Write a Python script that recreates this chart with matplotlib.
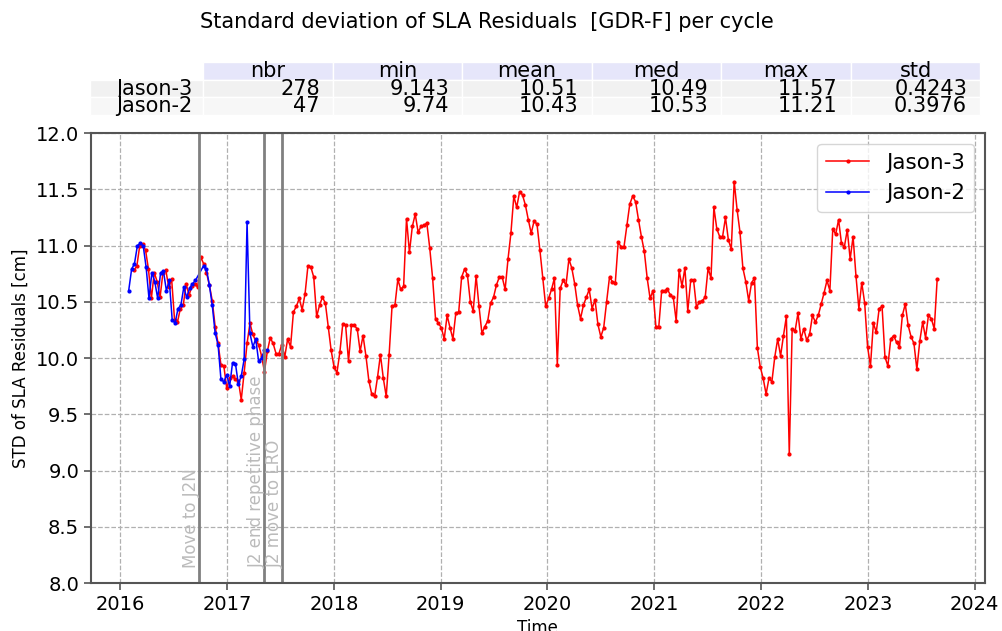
import numpy as np
import pandas as pd
import matplotlib
matplotlib.use('Agg')
import matplotlib.pyplot as plt

# Jason-3 std of SLA residuals per cycle [cm], grouped by year
j3_2016 = [10.78, 10.82, 11.00, 11.01, 10.96, 10.79, 10.53, 10.76, 10.68, 10.54,
           10.76, 10.78, 10.63, 10.70, 10.34, 10.32, 10.44, 10.47, 10.66, 10.56,
           10.64, 10.66, 10.63, 10.90, 10.84, 10.76, 10.65, 10.51, 10.28, 10.13,
           9.94, 9.93]
j3_2017 = [9.73, 9.82, 9.84, 9.81, 9.80, 9.63, 9.87, 10.13, 10.31, 10.21,
           10.15, 10.12, 10.02, 9.88, 10.06, 10.18, 10.13, 10.04, 10.04, 10.12,
           10.01, 10.17, 10.10, 10.41, 10.46, 10.53, 10.43, 10.57, 10.82, 10.81,
           10.72, 10.37, 10.47, 10.54, 10.49, 10.28, 10.07]
j3_2018 = [9.92, 9.87, 10.05, 10.30, 10.29, 9.97, 10.29, 10.29, 10.26, 10.06,
           10.20, 10.02, 9.80, 9.68, 9.66, 9.83, 10.03, 9.82, 9.66, 10.03,
           10.46, 10.47, 10.70, 10.61, 10.64, 11.24, 10.94, 11.17, 11.28, 11.12,
           11.17, 11.18, 11.20, 10.98, 10.71, 10.35, 10.31]
j3_2019 = [10.27, 10.17, 10.38, 10.27, 10.17, 10.40, 10.41, 10.72, 10.79, 10.74,
           10.50, 10.42, 10.73, 10.46, 10.22, 10.28, 10.33, 10.49, 10.54, 10.65,
           10.72, 10.72, 10.61, 10.88, 11.11, 11.44, 11.34, 11.48, 11.45, 11.36,
           11.23, 11.11, 11.22, 11.19, 10.96, 10.71, 10.46]
j3_2020 = [10.53, 10.61, 10.71, 9.94, 10.62, 10.69, 10.65, 10.88, 10.80, 10.66,
           10.47, 10.35, 10.47, 10.54, 10.61, 10.44, 10.52, 10.30, 10.19, 10.27,
           10.50, 10.72, 10.68, 10.67, 11.03, 10.99, 10.99, 11.18, 11.37, 11.44,
           11.39, 11.23, 11.08, 10.95, 10.71, 10.53, 10.60]
j3_2021 = [10.28, 10.28, 10.60, 10.60, 10.61, 10.56, 10.54, 10.33, 10.78, 10.64,
           10.80, 10.42, 10.69, 10.69, 10.45, 10.50, 10.51, 10.54, 10.80, 10.71,
           11.34, 11.15, 11.08, 11.08, 11.25, 11.05, 10.97, 11.57, 11.32, 11.12,
           10.80, 10.68, 10.51, 10.67, 10.71, 10.09]
j3_2022 = [9.92, 9.82, 9.68, 9.82, 9.79, 10.01, 10.17, 10.02, 10.20, 10.37,
           9.143, 10.26, 10.24, 10.40, 10.17, 10.26, 10.16, 10.21, 10.38, 10.32,
           10.38, 10.48, 10.58, 10.69, 10.60, 11.15, 11.10, 11.23, 11.02, 10.99,
           11.14, 10.88, 11.08, 10.73, 10.44, 10.67, 10.49]
j3_2023 = [10.10, 9.93, 10.31, 10.23, 10.44, 10.46, 10.01, 9.93, 10.17, 10.20,
           10.14, 10.10, 10.38, 10.48, 10.29, 10.19, 10.13, 9.90, 10.15, 10.32,
           10.18, 10.38, 10.35, 10.26, 10.70]

# Jason-2: repetitive orbit, then interleaved orbit after the move
j2_rep = [10.60, 10.79, 10.84, 11.00, 11.02, 11.00, 10.81, 10.53, 10.76, 10.68,
          10.53, 10.76, 10.77, 10.60, 10.69, 10.34, 10.31, 10.44, 10.47, 10.63,
          10.54, 10.62, 10.66, 10.69]
j2_int = [10.82, 10.79, 10.65, 10.47, 10.22, 10.12, 9.81, 9.79, 9.85, 9.75,
          9.96, 9.95, 9.77, 9.84, 9.99, 11.21, 10.22, 10.10, 10.17, 9.97,
          10.00, 10.07, 10.07]

events = ['Move to J2N', 'J2 end repetitive phase', 'J2 move to LRO']
event_dates = ['2016-09-25', '2017-05-08', '2017-07-08']

col_labels = ['nbr', 'min', 'mean', 'med', 'max', 'std']
row_labels = ['Jason-3', 'Jason-2']
stats = [['278', '9.143', '10.51', '10.49', '11.57', '0.4243'],
         ['47', '9.74', '10.43', '10.53', '11.21', '0.3976']]


def cycle_dates(start, n):
    return pd.Timestamp(start) + pd.to_timedelta(np.arange(n) * 9.9156, unit='D')


j3 = j3_2016 + j3_2017 + j3_2018 + j3_2019 + j3_2020 + j3_2021 + j3_2022 + j3_2023
j3_t = cycle_dates('2016-02-17', len(j3))
j2 = j2_rep + j2_int
j2_t = cycle_dates('2016-01-30', len(j2_rep)).append(cycle_dates('2016-10-12', len(j2_int)))

fig = plt.figure(figsize=(10.03, 6.31), dpi=100)
ax = fig.add_axes([0.0907, 0.076, 0.891, 0.713])

ax.plot(j3_t, j3, color='red', marker='.', markersize=4, linewidth=1.1, label='Jason-3')
ax.plot(j2_t, j2, color='blue', marker='.', markersize=4, linewidth=1.1, label='Jason-2')

for name, d in zip(events, event_dates):
    d = pd.Timestamp(d)
    ax.axvline(d, color='grey', linewidth=2)
    ax.text(d + pd.Timedelta(days=6), 8.13, name, rotation=90, ha='right', va='bottom',
            fontsize=12, color='#bbbbbb')

ax.set_xlim(pd.Timestamp('2015-09-23'), pd.Timestamp('2024-02-04'))
ax.set_ylim(8.0, 12.0)
ax.set_yticks(np.arange(8.0, 12.01, 0.5))
ax.xaxis.set_major_locator(matplotlib.dates.YearLocator())
ax.xaxis.set_major_formatter(matplotlib.dates.DateFormatter('%Y'))
ax.tick_params(labelsize=14, color='#555555', length=5, width=1.2)
ax.grid(True, linestyle='--', color='#b0b0b0', linewidth=0.9)
for s in ax.spines.values():
    s.set_color('#555555')
    s.set_linewidth(1.5)
ax.set_xlabel('Time', fontsize=12)
ax.set_ylabel('STD of SLA Residuals [cm]', fontsize=12)
ax.legend(loc='upper right', fontsize=15.5)

# stats table above the axes
cells = [[row_labels[i]] + stats[i] for i in range(2)]
tab = ax.table(cellText=cells, colLabels=[''] + col_labels,
               colWidths=[113] + [129.2] * 6, cellLoc='right',
               bbox=[-0.001, 1.040, 0.996, 0.118])
tab.auto_set_font_size(False)
tab.set_fontsize(15)
for (r, c), cell in tab.get_celld().items():
    cell.set_edgecolor('white')
    cell.set_linewidth(1)
    if r == 0:
        cell.set_facecolor('#e6e6fa' if c > 0 else 'white')
        cell.get_text().set_ha('center')
    elif r == 1:
        cell.set_facecolor('#f1f1f1')
    else:
        cell.set_facecolor('#f7f7f7')

fig.text(0.4856, 0.965, 'Standard deviation of SLA Residuals  [GDR-F] per cycle',
         ha='center', va='center', fontsize=15)

plt.savefig('out.png', dpi=100)
